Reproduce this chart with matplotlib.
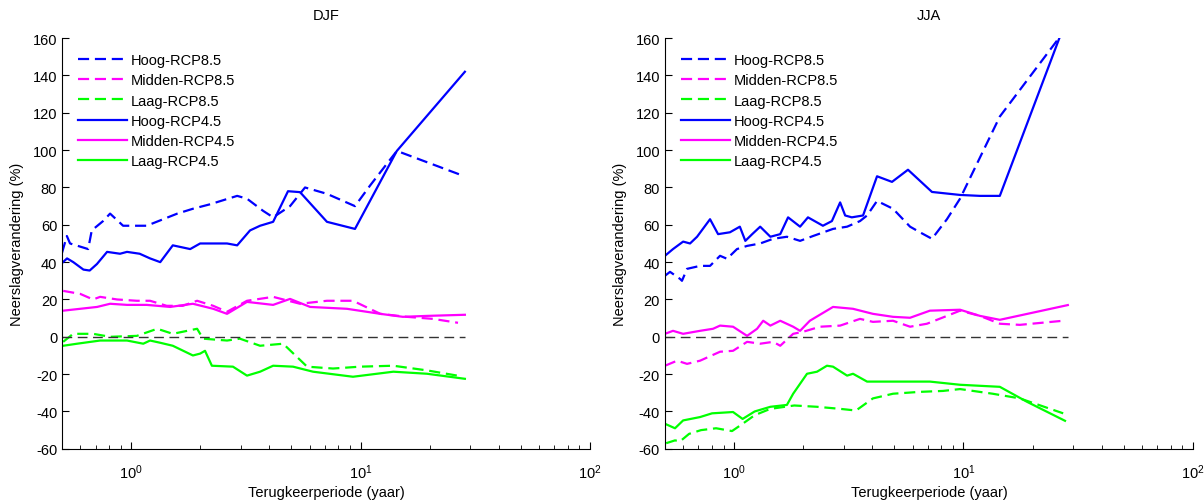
import numpy as np
import matplotlib.pyplot as plt

plt.rcParams['font.family'] = ['Liberation Sans', 'DejaVu Sans']
plt.rcParams['mathtext.fontset'] = 'custom'
plt.rcParams['mathtext.rm'] = 'Liberation Sans'
plt.rcParams['axes.unicode_minus'] = False

# ---- DJF (winter) ----
djf_hoog85_x = [0.5, 0.525, 0.542, 0.65, 0.674, 0.755, 0.81, 0.923, 1.17, 1.38, 1.59, 1.86, 2.21, 2.9, 3.2, 3.76, 4.16, 4.93, 5.73, 7.14, 9.46, 11.0, 14.4, 27.0]
djf_hoog85_y = [45, 54, 50, 47, 57, 62, 66, 59.5, 59.5, 63, 66, 68.6, 71, 75.5, 74, 67.5, 64, 70, 80, 76.6, 70, 81, 99.6, 87]
djf_midden85_x = [0.506, 0.6, 0.683, 0.733, 0.869, 1.06, 1.21, 1.43, 1.68, 1.94, 2.28, 2.62, 3.2, 4.16, 5.45, 7.14, 9.27, 12.2, 15.9, 20.7, 26.6]
djf_midden85_y = [24.6, 23, 20, 21.4, 20, 19.3, 19.3, 16.6, 16.6, 19.3, 16.6, 13.4, 19.3, 21.4, 17.7, 19.3, 19.3, 12.3, 10.7, 9.6, 7.5]
djf_laag85_x = [0.506, 0.559, 0.683, 0.81, 1.06, 1.3, 1.52, 1.94, 2.06, 2.62, 2.98, 3.65, 4.6, 5.85, 7.59, 9.95, 13.9, 19.5, 27.0]
djf_laag85_y = [-2.7, 1.6, 1.6, 0, 0.5, 4.3, 1.6, 4.3, -1, -2, -1, -4.8, -3.7, -16, -17, -16, -15.5, -18, -21]
djf_hoog45_x = [0.505, 0.526, 0.56, 0.62, 0.66, 0.71, 0.786, 0.895, 0.96, 1.09, 1.21, 1.34, 1.52, 1.81, 2.0, 2.62, 2.9, 3.3, 3.65, 4.16, 4.83, 5.45, 7.14, 9.46, 14.4, 28.5]
djf_hoog45_y = [40, 42, 40, 36, 35.5, 39, 45.5, 44.5, 45.5, 44.5, 42, 40, 49, 47, 50, 50, 49, 57, 59.5, 61.6, 78, 77.5, 61.6, 57.8, 99.6, 142]
djf_midden45_x = [0.506, 0.6, 0.711, 0.81, 0.96, 1.17, 1.48, 1.86, 2.28, 2.62, 3.2, 4.16, 4.93, 6.03, 8.73, 12.2, 15.3, 19.5, 28.5]
djf_midden45_y = [14, 15, 16, 17.7, 17.1, 17.1, 16, 17.7, 15, 12.3, 18.7, 17.1, 20.3, 16, 15, 12.3, 10.7, 11.2, 11.8]
djf_laag45_x = [0.506, 0.582, 0.733, 0.96, 1.13, 1.21, 1.34, 1.52, 1.86, 2.0, 2.1, 2.25, 2.78, 3.2, 3.65, 4.16, 5.08, 6.21, 9.27, 13.9, 19.5, 28.5]
djf_laag45_y = [-4.8, -3.7, -2, -2, -3.7, -2, -3.2, -4.8, -10, -9, -7.5, -15.5, -16, -20.8, -18.7, -15.5, -16, -18.7, -21.4, -18.7, -19.8, -22.5]

# ---- JJA (summer) ----
jja_hoog85_x = [0.5, 0.526, 0.582, 0.593, 0.624, 0.711, 0.786, 0.869, 0.932, 1.03, 1.14, 1.3, 1.48, 1.7, 1.94, 2.21, 2.7, 3.11, 3.54, 3.8, 4.2, 4.93, 5.85, 6.46, 7.29, 8.47, 9.66, 14.4, 26.3]
jja_hoog85_y = [32.7, 34.8, 31, 30, 36.4, 38, 38, 43.4, 41.8, 47, 48.7, 50, 52.5, 53.6, 51.4, 54, 57.8, 59, 62, 65, 72.8, 68.6, 59, 56, 52.5, 63, 74, 118, 160.7]
jja_midden85_x = [0.5, 0.565, 0.624, 0.711, 0.869, 0.99, 1.14, 1.3, 1.48, 1.59, 1.81, 2.0, 2.37, 2.9, 3.54, 4.03, 4.93, 5.85, 6.93, 8.47, 9.66, 11.8, 14.4, 17.6, 27.2]
jja_midden85_y = [-15.5, -12.8, -14.5, -12.8, -8, -7.5, -2.7, -3.7, -2.7, -4.8, 1.6, 2.7, 5.4, 6, 9.6, 8, 8.6, 5.4, 7, 11.2, 14, 11.2, 7, 6.4, 8.6]
jja_laag85_x = [0.506, 0.553, 0.582, 0.637, 0.718, 0.835, 0.98, 1.09, 1.23, 1.44, 1.83, 2.3, 2.9, 3.4, 4.03, 4.93, 6.46, 8.14, 9.66, 13.4, 17.6, 27.2]
jja_laag85_y = [-57, -55.5, -56, -52, -50, -49, -50.5, -46.6, -42, -38.6, -36.8, -37.5, -38.6, -39.5, -33, -30.5, -29.5, -29, -28, -30.5, -33, -41]
jja_hoog45_x = [0.5, 0.542, 0.6, 0.643, 0.69, 0.786, 0.852, 0.96, 1.06, 1.12, 1.2, 1.3, 1.44, 1.59, 1.72, 1.94, 2.1, 2.44, 2.67, 2.9, 3.05, 3.26, 3.65, 4.2, 4.88, 5.73, 7.29, 9.66, 11.8, 14.4, 26.3]
jja_hoog45_y = [43.4, 47, 51, 50, 53.6, 63, 55, 56, 59, 51.4, 55, 59, 53.6, 55, 64, 59, 64, 59.5, 62, 72, 65, 64, 65, 86, 83, 89.5, 77.6, 76, 75.5, 75.5, 160.7]
jja_midden45_x = [0.5, 0.542, 0.6, 0.711, 0.81, 0.869, 0.99, 1.14, 1.26, 1.34, 1.44, 1.59, 1.81, 1.94, 2.14, 2.7, 3.3, 4.03, 4.93, 5.85, 7.14, 9.66, 11.8, 14.4, 28.5]
jja_midden45_y = [1.6, 3.2, 1.6, 3.2, 4.3, 6, 5.4, 0.5, 4.3, 8.6, 6, 8.6, 5.4, 3.2, 8.6, 16, 15, 12.3, 10.7, 10.2, 14, 14.5, 11.2, 9.1, 17]
jja_laag45_x = [0.5, 0.553, 0.6, 0.711, 0.802, 0.99, 1.09, 1.23, 1.44, 1.7, 1.81, 2.08, 2.3, 2.54, 2.7, 3.11, 3.3, 3.8, 4.93, 7.14, 9.66, 14.4, 18.9, 27.7]
jja_laag45_y = [-46.6, -49, -44.8, -43, -41, -40.3, -44, -40, -37.5, -36.5, -30.5, -19.8, -18.7, -15.5, -16, -20.8, -19.8, -24, -24, -24, -25.7, -26.8, -34.8, -45]

labels = ['Hoog-RCP8.5', 'Midden-RCP8.5', 'Laag-RCP8.5', 'Hoog-RCP4.5', 'Midden-RCP4.5', 'Laag-RCP4.5']
colors = ['#0000ff', '#ff00ff', '#00ff00']
yticks = np.arange(-60, 161, 20)

panels = [
    ('DJF', [(djf_hoog85_x, djf_hoog85_y), (djf_midden85_x, djf_midden85_y), (djf_laag85_x, djf_laag85_y)],
            [(djf_hoog45_x, djf_hoog45_y), (djf_midden45_x, djf_midden45_y), (djf_laag45_x, djf_laag45_y)]),
    ('JJA', [(jja_hoog85_x, jja_hoog85_y), (jja_midden85_x, jja_midden85_y), (jja_laag85_x, jja_laag85_y)],
            [(jja_hoog45_x, jja_hoog45_y), (jja_midden45_x, jja_midden45_y), (jja_laag45_x, jja_laag45_y)]),
]

fig = plt.figure(figsize=(12.04, 5.02), dpi=100)
axes = [fig.add_axes([0.0515, 0.104, 0.4385, 0.818]),
        fig.add_axes([0.5523, 0.104, 0.4385, 0.818])]

for ax, (title, rcp85, rcp45) in zip(axes, panels):
    for (x, y), c in zip(rcp85, colors):
        ax.plot(x, y, color=c, lw=1.6, ls=(0, (5, 2.6)))
    for (x, y), c in zip(rcp45, colors):
        ax.plot(x, y, color=c, lw=1.6)
    ax.plot([0.5, 28.5], [0, 0], color='#333333', lw=1.0, ls=(0, (7, 4)))

    ax.set_xscale('log')
    ax.set_xlim(0.5, 100)
    ax.set_ylim(-60, 160)
    ax.set_yticks(yticks)
    ax.spines['top'].set_visible(False)
    ax.spines['right'].set_visible(False)
    ax.tick_params(which='both', direction='in', labelsize=10.5)
    ax.tick_params(which='major', length=5)
    ax.tick_params(which='minor', length=3)
    ax.tick_params(axis='x', pad=10)
    ax.set_title(title, fontsize=10.5, pad=14)
    ax.set_xlabel('Terugkeerperiode (yaar)', fontsize=10.5, labelpad=3)
    ax.set_ylabel('Neerslagverandering (%)', fontsize=10.5, labelpad=6)
    ax.legend(labels, loc='upper left', bbox_to_anchor=(0.03, 0.963), frameon=False,
              fontsize=10.5, handlelength=3.4, handletextpad=0.2, labelspacing=0.42,
              borderpad=0, borderaxespad=0)

fig.savefig('out.png', dpi=100)
